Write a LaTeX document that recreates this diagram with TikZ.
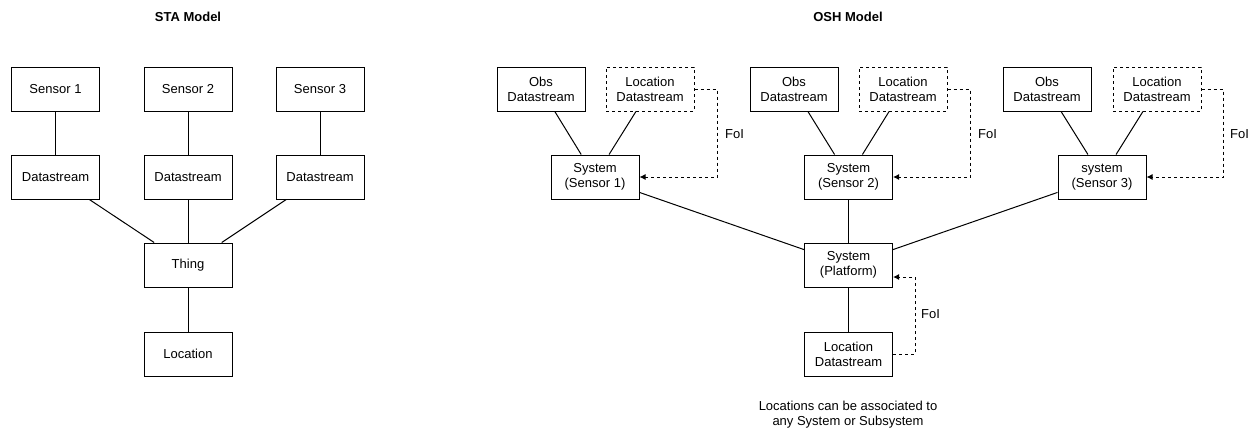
\documentclass[tikz,border=0pt]{standalone}
\usepackage{fontspec}
\setmainfont{Liberation Sans}
\usetikzlibrary{arrows.meta}
\begin{document}
\begin{tikzpicture}[x=1pt,y=-1pt,
  every node/.style={font=\fontsize{13}{15}\selectfont, align=center},
  box/.style={draw, line width=1pt, minimum width=88pt, minimum height=44pt, inner sep=0pt},
  dbox/.style={box, dash pattern=on 3pt off 3pt},
  link/.style={line width=1pt},
  foi/.style={line width=1pt, dash pattern=on 3pt off 3pt, -{Latex[length=6pt,width=6pt]}},
  ttl/.style={font=\fontsize{13}{15}\selectfont\bfseries},
  lbl/.style={anchor=west, inner sep=0pt}]
\useasboundingbox (0,0) rectangle (1255,431);

% ---- STA model ----
\node[ttl] (staT) at (188,17) {STA Model};
\node[box] (s1) at (55.5,89) {Sensor 1};
\node[box] (s2) at (188,89) {Sensor 2};
\node[box] (s3) at (320,89) {Sensor 3};
\node[box] (d1) at (55.5,177) {Datastream};
\node[box] (d2) at (188,177) {Datastream};
\node[box] (d3) at (320,177) {Datastream};
\node[box] (thing) at (188,265) {Thing};
\node[box] (loc) at (188,354) {Location};
\draw[link] (s1) -- (d1);
\draw[link] (s2) -- (d2);
\draw[link] (s3) -- (d3);
\draw[link] (d1) -- (thing);
\draw[link] (d2) -- (thing);
\draw[link] (d3) -- (thing);
\draw[link] (thing) -- (loc);

% ---- OSH model ----
\node[ttl] (oshT) at (848,17) {OSH Model};
\node[box]  (o1) at (541,89) {Obs\\Datastream};
\node[dbox] (l1) at (650,89) {Location\\Datastream};
\node[box]  (sys1) at (595,177) {System\\(Sensor 1)};
\node[box]  (o2) at (794,89) {Obs\\Datastream};
\node[dbox] (l2) at (903,89) {Location\\Datastream};
\node[box]  (sys2) at (848.5,177) {System\\(Sensor 2)};
\node[box]  (o3) at (1047,89) {Obs\\Datastream};
\node[dbox] (l3) at (1157,89) {Location\\Datastream};
\node[box]  (sys3) at (1102,177) {system\\(Sensor 3)};
\node[box]  (plat) at (848.5,265) {System\\(Platform)};
\node[box]  (locp) at (848.5,354) {Location\\Datastream};

\draw[link] (o1) -- (sys1);
\draw[link] (l1) -- (sys1);
\draw[link] (o2) -- (sys2);
\draw[link] (l2) -- (sys2);
\draw[link] (o3) -- (sys3);
\draw[link] (l3) -- (sys3);
\draw[link] (sys1) -- (plat);
\draw[link] (sys2) -- (plat);
\draw[link] (sys3) -- (plat);
\draw[link] (plat) -- (locp);

% feature-of-interest links
\draw[foi] (l1.east) -- (717,89) |- (sys1.east);
\node[lbl] (f1) at (725,134) {FoI};
\draw[foi] (l2.east) -- (970,89) |- (sys2.east);
\node[lbl] (f2) at (978,134) {FoI};
\draw[foi] (l3.east) -- (1223,89) |- (sys3.east);
\node[lbl] (f3) at (1230,134) {FoI};
\coordinate (platIn) at ([yshift=-12pt]plat.east);
\draw[foi] (locp.east) -- (915,354) |- (platIn);
\node[lbl] (fp) at (921,314) {FoI};

\node (note) at (848,415) {Locations can be associated to\\any System or Subsystem};
\end{tikzpicture}
\end{document}
